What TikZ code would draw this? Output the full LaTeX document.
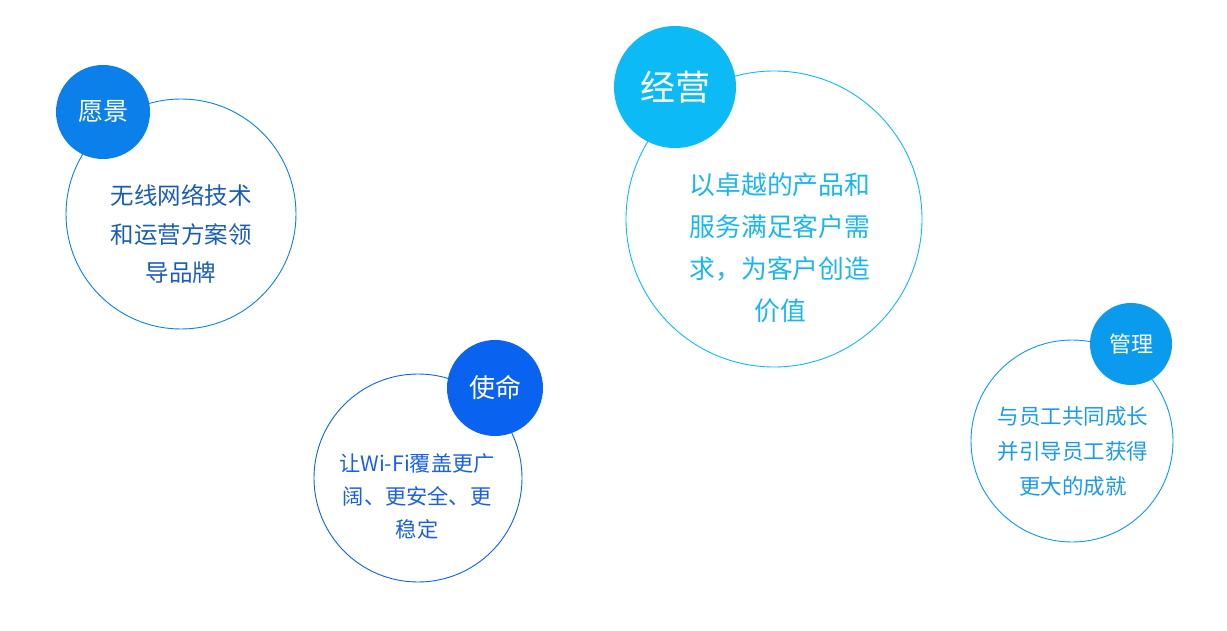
\documentclass[tikz,border=0pt]{standalone}
\usepackage{fontspec}
\setmainfont{Noto Sans CJK SC}
\usepackage{xcolor}
\definecolor{cVis}{HTML}{0B80EA}
\definecolor{cVisTxt}{HTML}{1A5DB8}
\definecolor{cOps}{HTML}{0CBBF6}
\definecolor{cOpsTxt}{HTML}{1BB6F0}
\definecolor{cMis}{HTML}{0A62F0}
\definecolor{cMisTxt}{HTML}{1A5FE6}
\definecolor{cMgt}{HTML}{0A9BEF}
\definecolor{cMgtTxt}{HTML}{1B9AEA}

\begin{document}
\begin{tikzpicture}[x=1pt,y=-1pt,
  ring/.style={draw,circle,inner sep=0pt,line width=0.9pt},
  tag/.style={circle,inner sep=0pt,text=white},
  body/.style={align=center,inner sep=0pt}
]
\useasboundingbox (0,0) rectangle (1227,631);

\node[ring,draw=cVis,minimum size=230] (vision) at (181,214) {};
\node[tag,fill=cVis,minimum size=94,font=\fontsize{25}{28}\selectfont] (visionTag) at (103,112) {愿景};
\node[body,text=cVisTxt,font=\fontsize{23.5}{38.5}\selectfont] (visionTxt) at (181,234)
  {无线网络技术\\和运营方案领\\导品牌};

\node[ring,draw=cOps,minimum size=296] (ops) at (774,219) {};
\node[tag,fill=cOps,minimum size=122,font=\fontsize{35}{38}\selectfont] (opsTag) at (675,87) {经营};
\node[body,text=cOpsTxt,font=\fontsize{25.8}{42}\selectfont] (opsTxt) at (780,248)
  {以卓越的产品和\\服务满足客户需\\求，为客户创造\\价值};

\node[ring,draw=cMis,minimum size=208] (mission) at (418,478) {};
\node[tag,fill=cMis,minimum size=96,font=\fontsize{26}{29}\selectfont] (missionTag) at (495,388) {使命};
\node[body,text=cMisTxt,font=\fontsize{21.2}{33}\selectfont] (missionTxt) at (417,496)
  {让Wi-Fi覆盖更广\\阔、更安全、更\\稳定};

\node[ring,draw=cMgt,minimum size=202] (mgmt) at (1072,441) {};
\node[tag,fill=cMgt,minimum size=82,font=\fontsize{22}{25}\selectfont] (mgmtTag) at (1131,344) {管理};
\node[body,text=cMgtTxt,font=\fontsize{21.5}{35}\selectfont] (mgmtTxt) at (1073,451)
  {与员工共同成长\\并引导员工获得\\更大的成就};
\end{tikzpicture}
\end{document}
